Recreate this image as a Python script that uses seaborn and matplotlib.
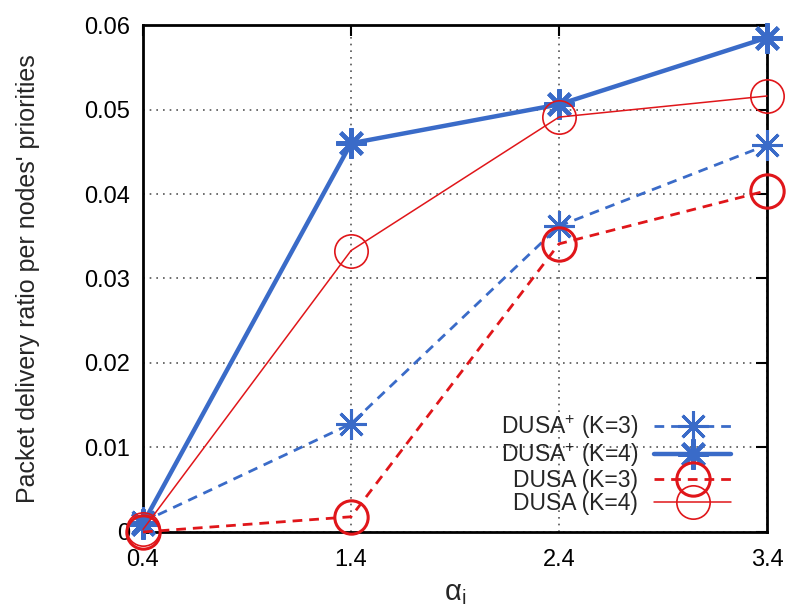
import matplotlib
matplotlib.use("Agg")
import matplotlib.pyplot as plt
import seaborn as sns
import pandas as pd

alpha = [0.4, 1.4, 2.4, 3.4]
dusa_plus_k3 = [0.0012, 0.0128, 0.0362, 0.0458]
dusa_plus_k4 = [0.0010, 0.0460, 0.0506, 0.0585]
dusa_k3 = [0.0000, 0.0018, 0.0341, 0.0404]
dusa_k4 = [0.0003, 0.0333, 0.0491, 0.0516]
labels = ["DUSA$^{+}$ (K=3)", "DUSA$^{+}$ (K=4)", "DUSA (K=3)", "DUSA (K=4)"]
xtick_labels = ["0.4", "1.4", "2.4", "3.4"]
ytick_values = [0, 0.01, 0.02, 0.03, 0.04, 0.05, 0.06]
ytick_labels = ["0", "0.01", "0.02", "0.03", "0.04", "0.05", "0.06"]

sns.set_style("white")
plt.rcParams['font.family'] = ['Liberation Sans', 'DejaVu Sans']
plt.rcParams['mathtext.fontset'] = 'custom'
plt.rcParams['mathtext.rm'] = 'Liberation Sans'
plt.rcParams['mathtext.it'] = 'Liberation Sans'

fig = plt.figure(figsize=(7.87, 6.10), dpi=100)
ax = fig.add_axes([0.1817, 0.1279, 0.7929, 0.8311])

blue = '#3a6bc8'
red = '#e0161a'
ast = (8, 2, 0)
series = [dusa_plus_k3, dusa_plus_k4, dusa_k3, dusa_k4]
styles = [
    dict(color=blue, lw=2.0, ls=(0, (3.5, 2.5)), marker=ast, ms=22, mew=2.2),
    dict(color=blue, lw=3.2, ls='-', marker=ast, ms=22, mew=3.0),
    dict(color=red, lw=2.0, ls=(0, (3.5, 2.5)), marker='o', ms=24, mew=2.2),
    dict(color=red, lw=1.1, ls='-', marker='o', ms=24, mew=1.2),
]
for vals, lab, st in zip(series, labels, styles):
    df = pd.DataFrame({"x": alpha, "y": vals})
    sns.lineplot(data=df, x="x", y="y", ax=ax, label=lab, clip_on=False,
                 color=st['color'], linewidth=st['lw'], linestyle=st['ls'],
                 marker=st['marker'], markersize=st['ms'], markeredgewidth=st['mew'],
                 markerfacecolor='none', markeredgecolor=st['color'], zorder=3)

ax.set_xlim(0.4, 3.4)
ax.set_ylim(0, 0.06)
ax.set_xticks(alpha)
ax.set_xticklabels(xtick_labels)
ax.set_yticks(ytick_values)
ax.set_yticklabels(ytick_labels)
ax.tick_params(direction='in', length=8, width=1.5, top=True, right=True,
               labelsize=17, colors='black')
ax.tick_params(axis='x', pad=12)
ax.tick_params(axis='y', pad=9)
for s in ax.spines.values():
    s.set_linewidth(2)
    s.set_color('black')
ax.grid(True, linestyle=(0, (1, 3)), color='#555555', linewidth=1.2)
ax.set_axisbelow(True)
ax.set_xlabel(r"$\mathregular{\alpha_i}$", fontsize=21, labelpad=6)
ax.set_ylabel("Packet delivery ratio per nodes' priorities", fontsize=18, labelpad=32)

leg = ax.legend(loc='lower right', frameon=False, markerfirst=False, fontsize=16.5,
                handlelength=3.35, labelspacing=0.0, borderaxespad=0.0,
                handletextpad=0.7, bbox_to_anchor=(0.957, 0.015))
for t in leg.get_texts():
    t.set_ha('right')
fig.savefig("out.png", dpi=100)
